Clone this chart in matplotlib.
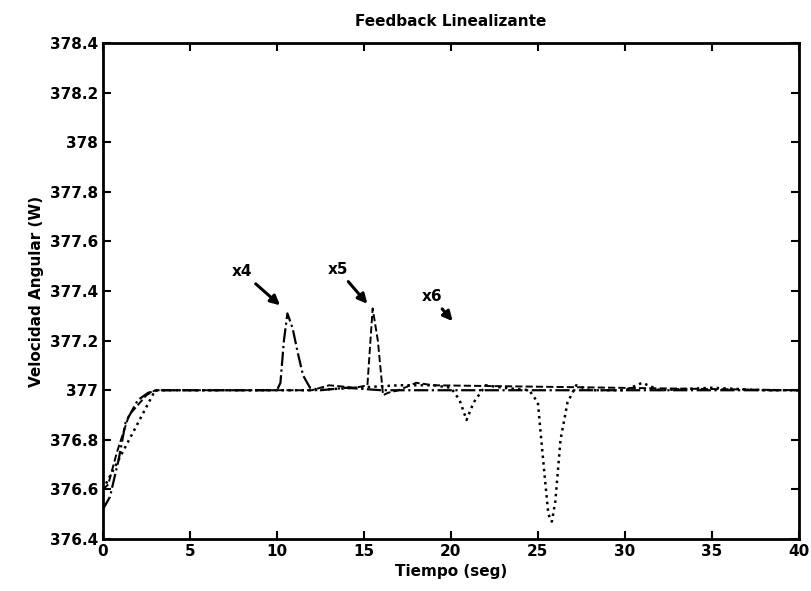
import matplotlib.pyplot as plt

# x4 response: start-up transient + disturbance at t~10.5
t_x4 = [0.0, 0.4, 0.9, 1.3, 2.0, 2.6, 3.2, 10.0, 10.2, 10.4, 10.6, 10.9, 11.2, 11.5, 11.9, 12.5, 14.0, 16.0, 40.0]
w_x4 = [376.52, 376.57, 376.72, 376.87, 376.96, 376.99, 377.0, 377.0, 377.03, 377.2, 377.31, 377.25, 377.15, 377.06, 377.01, 377.0, 377.01, 377.0, 377.0]

# x5 response: spike at t~15.5
t_x5 = [0.0, 0.3, 0.8, 1.5, 2.5, 3.0, 12.0, 13.0, 14.5, 15.2, 15.5, 15.8, 16.1, 16.4, 17.0, 18.0, 19.0, 40.0]
w_x5 = [376.6, 376.62, 376.75, 376.9, 376.98, 377.0, 377.0, 377.02, 377.01, 377.02, 377.33, 377.2, 376.98, 376.99, 377.0, 377.03, 377.02, 377.0]

# x6 response: dips at t~21 and t~25.7
t_x6 = [0.0, 3.0, 12.0, 17.0, 19.0, 20.0, 20.5, 20.9, 21.3, 22.0, 23.0, 24.5, 25.0, 25.3, 25.6, 25.8, 26.0, 26.3, 26.7, 27.2, 28.0, 30.0, 31.0, 32.0, 35.0, 38.0, 40.0]
w_x6 = [376.6, 377.0, 377.0, 377.02, 377.02, 377.01, 376.96, 376.88, 376.95, 377.02, 377.01, 377.0, 376.95, 376.72, 376.5, 376.47, 376.55, 376.8, 376.95, 377.02, 377.0, 377.0, 377.03, 377.0, 377.01, 377.0, 377.0]

fig = plt.figure(figsize=(8.11, 5.91), dpi=100)
ax = fig.add_axes([0.127, 0.088, 0.858, 0.839])

ax.plot(t_x4, w_x4, color='black', lw=1.6, ls='-.')
ax.plot(t_x5, w_x5, color='black', lw=1.4, ls='--')
ax.plot(t_x6, w_x6, color='black', lw=1.8, ls=':')

ax.set_xlim(0, 40)
ax.set_ylim(376.4, 378.4)
ax.set_xticks(range(0, 41, 5))
ax.set_yticks([376.4, 376.6, 376.8, 377.0, 377.2, 377.4, 377.6, 377.8, 378.0, 378.2, 378.4])
ax.set_yticklabels(['376.4', '376.6', '376.8', '377', '377.2', '377.4', '377.6', '377.8', '378', '378.2', '378.4'])
ax.tick_params(direction='in', length=6, width=1.5, labelsize=11, top=True, right=True)
for lab in ax.get_xticklabels() + ax.get_yticklabels():
    lab.set_fontweight('bold')
for s in ax.spines.values():
    s.set_linewidth(2)

ax.set_title('Feedback Linealizante', fontsize=11, fontweight='bold', pad=12)
ax.set_xlabel('Tiempo (seg)', fontsize=11, fontweight='bold')
ax.set_ylabel('Velocidad Angular (W)', fontsize=11, fontweight='bold')

arrow = dict(arrowstyle='-|>', lw=2.2, color='black', mutation_scale=14)
ax.annotate('x4', xy=(10.3, 377.335), xytext=(7.4, 377.46), arrowprops=arrow, fontsize=11, fontweight='bold')
ax.annotate('x5', xy=(15.3, 377.34), xytext=(12.9, 377.47), arrowprops=arrow, fontsize=11, fontweight='bold')
ax.annotate('x6', xy=(20.2, 377.27), xytext=(18.3, 377.36), arrowprops=arrow, fontsize=11, fontweight='bold')

fig.savefig('out.png', dpi=100)
